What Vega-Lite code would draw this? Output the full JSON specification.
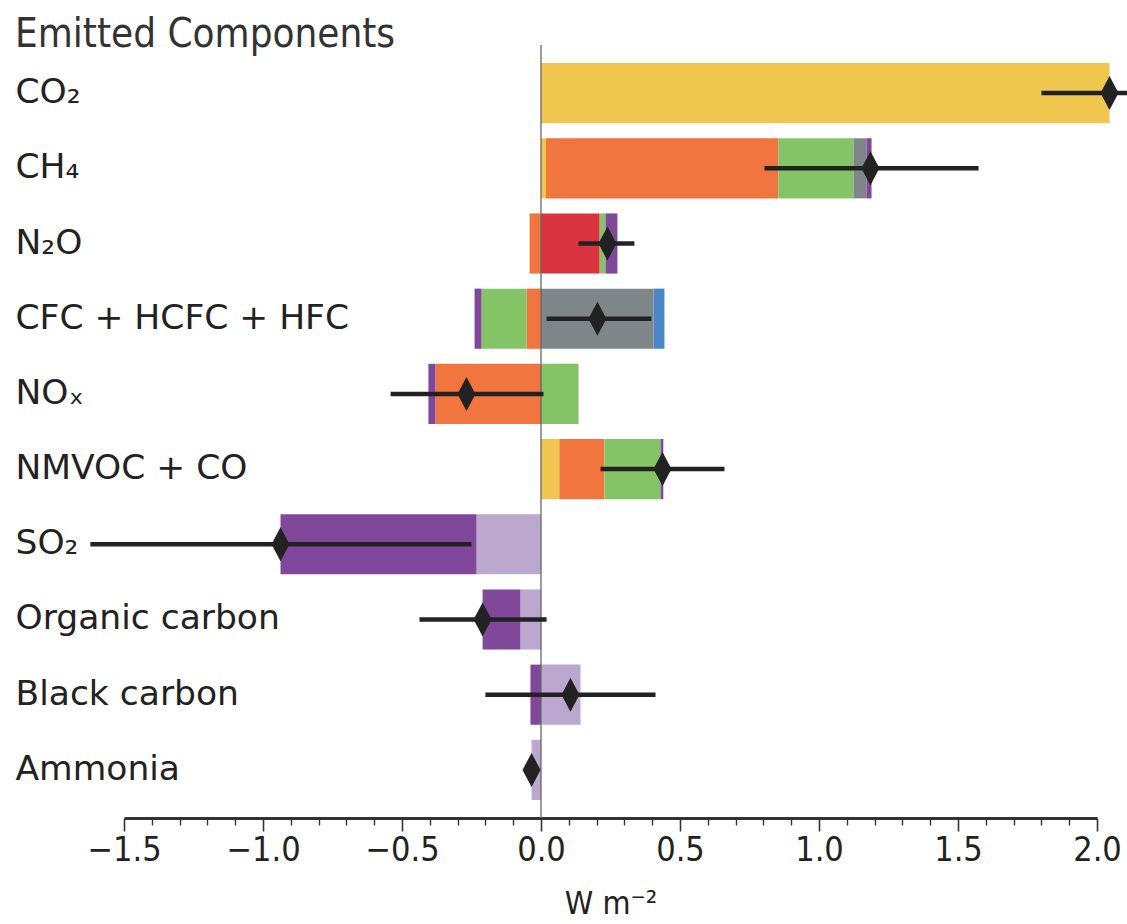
{
  "$schema": "https://vega.github.io/schema/vega-lite/v6.json",
  "width": 973,
  "height": 773,
  "autosize": {"type": "none"},
  "padding": {"left": 124, "top": 45, "right": 30, "bottom": 106},
  "background": "white",
  "config": {"view": {"stroke": null}},
  "title": {
    "text": "Emitted Components",
    "anchor": "start",
    "frame": "group",
    "dx": -109,
    "dy": 45,
    "offset": 2,
    "baseline": "alphabetic",
    "font": "Liberation Sans Narrow, DejaVu Sans Condensed, sans-serif",
    "fontSize": 40,
    "fontWeight": "normal",
    "color": "#333333"
  },
  "resolve": {"scale": {"x": "shared"}, "axis": {"x": "independent"}},
  "datasets": {
    "segments": [
      {"row": "CO₂", "component": "Carbon dioxide", "start": 0, "end": 2.045},
      {"row": "CH₄", "component": "Carbon dioxide", "start": 0, "end": 0.018},
      {"row": "CH₄", "component": "Methane", "start": 0.018, "end": 0.854},
      {"row": "CH₄", "component": "Ozone", "start": 0.854, "end": 1.124},
      {"row": "CH₄", "component": "Stratospheric water vapour", "start": 1.124, "end": 1.171},
      {"row": "CH₄", "component": "Aerosol-radiation", "start": 1.171, "end": 1.189},
      {"row": "N₂O", "component": "Methane", "start": -0.041, "end": 0},
      {"row": "N₂O", "component": "Nitrous oxide", "start": 0, "end": 0.211},
      {"row": "N₂O", "component": "Ozone", "start": 0.211, "end": 0.232},
      {"row": "N₂O", "component": "Aerosol-radiation", "start": 0.232, "end": 0.275},
      {"row": "CFC + HCFC + HFC", "component": "Methane", "start": -0.052, "end": 0},
      {"row": "CFC + HCFC + HFC", "component": "Ozone", "start": -0.214, "end": -0.052},
      {"row": "CFC + HCFC + HFC", "component": "Aerosol-radiation", "start": -0.239, "end": -0.214},
      {"row": "CFC + HCFC + HFC", "component": "Halogenated gases", "start": 0, "end": 0.405},
      {"row": "CFC + HCFC + HFC", "component": "Other", "start": 0.405, "end": 0.444},
      {"row": "NOₓ", "component": "Methane", "start": -0.38, "end": 0},
      {"row": "NOₓ", "component": "Aerosol-radiation", "start": -0.405, "end": -0.38},
      {"row": "NOₓ", "component": "Ozone", "start": 0, "end": 0.135},
      {"row": "NMVOC + CO", "component": "Carbon dioxide", "start": 0, "end": 0.066},
      {"row": "NMVOC + CO", "component": "Methane", "start": 0.066, "end": 0.228},
      {"row": "NMVOC + CO", "component": "Ozone", "start": 0.228, "end": 0.43},
      {"row": "NMVOC + CO", "component": "Aerosol-radiation", "start": 0.43, "end": 0.44},
      {"row": "SO₂", "component": "Aerosol-cloud", "start": -0.232, "end": 0},
      {"row": "SO₂", "component": "Aerosol-radiation", "start": -0.937, "end": -0.232},
      {"row": "Organic carbon", "component": "Aerosol-cloud", "start": -0.074, "end": 0},
      {"row": "Organic carbon", "component": "Aerosol-radiation", "start": -0.21, "end": -0.074},
      {"row": "Black carbon", "component": "Aerosol-radiation", "start": -0.038, "end": 0},
      {"row": "Black carbon", "component": "Aerosol-cloud", "start": 0, "end": 0.142},
      {"row": "Ammonia", "component": "Aerosol-cloud", "start": -0.034, "end": 0}
    ],
    "totals": [
      {"row": "CO₂", "best": 2.045, "lo": 1.8, "hi": 2.3},
      {"row": "CH₄", "best": 1.185, "lo": 0.804, "hi": 1.574},
      {"row": "N₂O", "best": 0.239, "lo": 0.135, "hi": 0.336},
      {"row": "CFC + HCFC + HFC", "best": 0.203, "lo": 0.02, "hi": 0.397},
      {"row": "NOₓ", "best": -0.268, "lo": -0.541, "hi": 0.009},
      {"row": "NMVOC + CO", "best": 0.437, "lo": 0.214, "hi": 0.66},
      {"row": "SO₂", "best": -0.937, "lo": -1.621, "hi": -0.25},
      {"row": "Organic carbon", "best": -0.21, "lo": -0.437, "hi": 0.02},
      {"row": "Black carbon", "best": 0.106, "lo": -0.2, "hi": 0.412},
      {"row": "Ammonia", "best": -0.034, "lo": -0.045, "hi": -0.023}
    ],
    "zero": [{"value": 0}]
  },
  "layer": [
    {
      "data": {"name": "segments"},
      "mark": {"type": "bar"},
      "encoding": {
        "y": {
          "field": "row",
          "type": "nominal",
          "title": null,
          "scale": {
            "domain": ["CO₂", "CH₄", "N₂O", "CFC + HCFC + HFC", "NOₓ", "NMVOC + CO", "SO₂", "Organic carbon", "Black carbon", "Ammonia"],
            "paddingInner": 0.2,
            "paddingOuter": 0.24
          },
          "axis": {
            "domain": false,
            "ticks": false,
            "tickSize": 0,
            "labelAlign": "left",
            "labelBaseline": "middle",
            "labelPadding": 109,
            "labelFont": "DejaVu Sans",
            "labelFontSize": 34.5,
            "labelColor": "#222222",
            "labelLimit": 500
          }
        },
        "x": {
          "field": "start",
          "type": "quantitative",
          "title": "W m⁻²",
          "scale": {"domain": [-1.5, 2.0], "nice": false, "zero": false},
          "axis": {
            "orient": "bottom",
            "values": [-1.5, -1.0, -0.5, 0, 0.5, 1.0, 1.5, 2.0],
            "format": ".1f",
            "tickSize": 13,
            "tickWidth": 1.6,
            "tickColor": "#333333",
            "domainColor": "#333333",
            "domainWidth": 3,
            "grid": false,
            "labelFont": "DejaVu Sans Condensed",
            "labelFontSize": 34,
            "labelColor": "#222222",
            "labelPadding": 2,
            "labelFlush": false,
            "labelOverlap": false,
            "labelBound": false,
            "titleFont": "DejaVu Sans Condensed",
            "titleFontSize": 32,
            "titleFontWeight": "normal",
            "titleColor": "#222222",
            "titlePadding": 21
          }
        },
        "x2": {"field": "end"},
        "color": {
          "field": "component",
          "type": "nominal",
          "legend": null,
          "scale": {
            "domain": ["Carbon dioxide", "Methane", "Nitrous oxide", "Halogenated gases", "Ozone", "Stratospheric water vapour", "Other", "Aerosol-radiation", "Aerosol-cloud"],
            "range": ["#EFC74F", "#F1753E", "#D8333F", "#7E868A", "#84C466", "#7E868A", "#4A87C6", "#80489A", "#BCA7CF"]
          }
        }
      }
    },
    {
      "data": {"name": "zero"},
      "mark": {"type": "rule", "color": "#666666", "strokeWidth": 1.3},
      "encoding": {
        "x": {
          "field": "value",
          "type": "quantitative",
          "axis": {
            "orient": "bottom",
            "values": [-1.4, -1.3, -1.2, -1.1, -0.9, -0.8, -0.7, -0.6, -0.4, -0.3, -0.2, -0.1, 0.1, 0.2, 0.3, 0.4, 0.6, 0.7, 0.8, 0.9, 1.1, 1.2, 1.3, 1.4, 1.6, 1.7, 1.8, 1.9],
            "labels": false,
            "domain": false,
            "grid": false,
            "tickSize": 7,
            "tickWidth": 1.4,
            "tickColor": "#333333",
            "title": null
          }
        }
      }
    },
    {
      "data": {"name": "totals"},
      "mark": {"type": "rule", "color": "#222222", "strokeWidth": 4.5},
      "encoding": {
        "y": {"field": "row", "type": "nominal"},
        "x": {"field": "lo", "type": "quantitative", "axis": null},
        "x2": {"field": "hi"}
      }
    },
    {
      "data": {"name": "totals"},
      "mark": {"type": "point", "shape": "M0,-1L0.53,0L0,1L-0.53,0Z", "filled": true, "color": "#222222", "opacity": 1, "size": 1156, "strokeWidth": 0},
      "encoding": {
        "y": {"field": "row", "type": "nominal"},
        "x": {"field": "best", "type": "quantitative", "axis": null}
      }
    }
  ]
}
